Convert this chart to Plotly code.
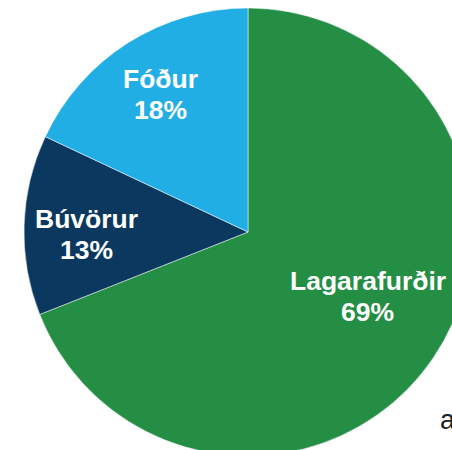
import plotly.graph_objects as go

labels = ["Lagarafurðir", "Búvörur", "Fóður"]
values = [69, 13, 18]
colors = ["#248E45", "#0A385E", "#21AEE4"]

# label block centres in pixels (layout only)
label_pos = [(367.5, 294), (86.5, 232.5), (160, 92.5)]

W, H = 496, 464
FONT = "Liberation Sans, Arial, sans-serif"
fig = go.Figure(go.Pie(
    labels=labels, values=values, sort=False, direction="clockwise", rotation=0,
    marker=dict(colors=colors, line=dict(color="white", width=0.5)),
    textinfo="none",
    domain=dict(x=[0, 1], y=[8 / H, 456 / H]),
    showlegend=False, hoverinfo="none",
))
total = sum(values)
for lab, val, (px, py) in zip(labels, values, label_pos):
    pct = f"{round(100 * val / total)}%"
    for txt, dy in ((lab, -15.5), (pct, 15.5)):
        fig.add_annotation(text=f"<b>{txt}</b>", xref="paper", yref="paper",
                           x=px / W, y=1 - (py + dy + 2) / H,
                           xanchor="center", yanchor="middle", showarrow=False,
                           font=dict(family=FONT, size=26.5, color="white"))
fig.add_annotation(text="a", xref="paper", yref="paper", x=438 / W, y=1 - 420 / H,
                   xanchor="left", yanchor="middle", showarrow=False,
                   font=dict(family=FONT, size=27, color="#222222"))
fig.update_layout(width=W, height=H, margin=dict(l=0, r=0, t=0, b=0),
                  paper_bgcolor="white", plot_bgcolor="white")
fig.write_html("out.html", config={"displayModeBar": False},
               post_script="document.body.style.overflow='hidden';document.body.style.margin='0';")
